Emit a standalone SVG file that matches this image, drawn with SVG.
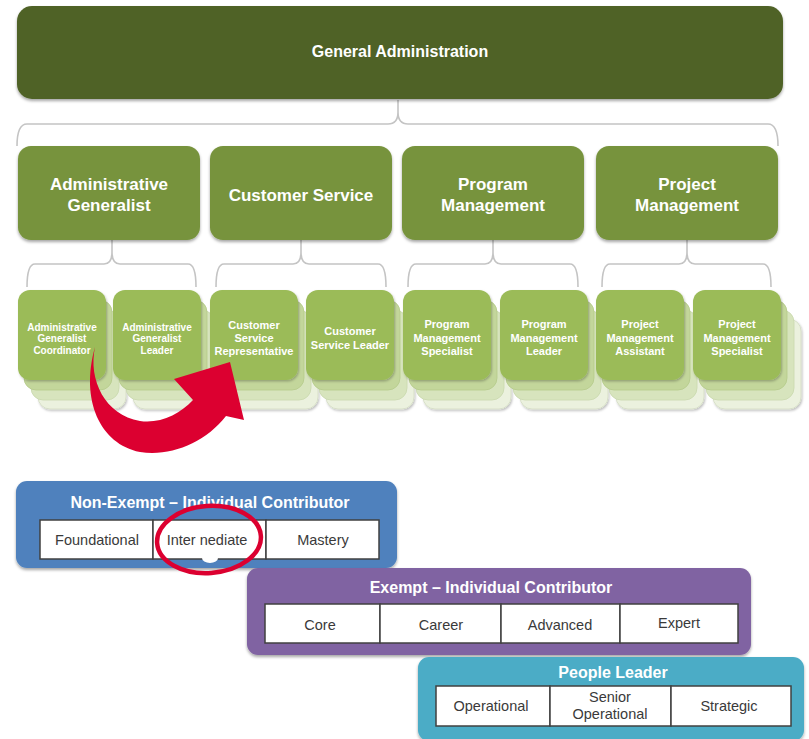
<svg xmlns="http://www.w3.org/2000/svg" width="809" height="739" viewBox="0 0 809 739">
<defs>
<filter id="sh" x="-10%" y="-10%" width="120%" height="130%">
<feDropShadow dx="0" dy="2" stdDeviation="1.6" flood-color="#000" flood-opacity="0.35"/>
</filter>
<filter id="shl" x="-10%" y="-10%" width="130%" height="130%">
<feDropShadow dx="1" dy="1.5" stdDeviation="1.2" flood-color="#000" flood-opacity="0.25"/>
</filter>
</defs>
<style>
.t{font-family:"Liberation Sans",Arial,sans-serif;font-weight:bold;fill:#fff;text-anchor:middle}
.c{font-family:"Liberation Sans",Arial,sans-serif;fill:#3a3a3a;text-anchor:middle;font-size:14.5px}
.br{fill:none;stroke:#c4c4c4;stroke-width:1.6}
.l3{fill:#ebf1de;stroke:#d3dcc3;stroke-width:0.8}
.l2{fill:#d7e4bd;stroke:#c9d8ad;stroke-width:0.8}
.l1{fill:#c3d69b;stroke:#b5ca8a;stroke-width:0.8}
.f{fill:#9bbb59}
.cell{fill:#fff;stroke:#404040;stroke-width:1.5}
</style>

<g id="connectors">
<path class="br" d="M17,146 Q17,124 27,124 L388,124 Q398,124 398,112 L398,100 M398,112 Q398,124 408,124 L768,124 Q778,124 778,146"/>
<path class="br" d="M27,287 Q27,264 35,264 L104,264 Q112,264 112,252 L112,240 M112,252 Q112,264 120,264 L188,264 Q196,264 196,287"/>
<path class="br" d="M216,287 Q216,264 224,264 L293,264 Q301,264 301,252 L301,240 M301,252 Q301,264 309,264 L378,264 Q386,264 386,287"/>
<path class="br" d="M408,287 Q408,264 416,264 L485,264 Q493,264 493,252 L493,240 M493,252 Q493,264 501,264 L570,264 Q578,264 578,287"/>
<path class="br" d="M602,287 Q602,264 610,264 L679,264 Q687,264 687,252 L687,240 M687,252 Q687,264 695,264 L763,264 Q771,264 771,287"/>
</g>

<g id="general-administration">
<rect x="17" y="6" width="766" height="93" rx="15" fill="#4f6228" filter="url(#sh)"/>
<text class="t" x="400" y="57" font-size="16">General Administration</text>
</g>

<g id="administrative-generalist">
<rect x="18" y="146" width="182" height="94" rx="13" fill="#77933c" filter="url(#sh)"/>
<text class="t" x="109" y="190" font-size="17">Administrative</text>
<text class="t" x="109" y="211" font-size="17">Generalist</text>
</g>
<g id="customer-service">
<rect x="210" y="146" width="182" height="94" rx="13" fill="#77933c" filter="url(#sh)"/>
<text class="t" x="301" y="201" font-size="17">Customer Service</text>
</g>
<g id="program-management">
<rect x="402" y="146" width="182" height="94" rx="13" fill="#77933c" filter="url(#sh)"/>
<text class="t" x="493" y="190" font-size="17">Program</text>
<text class="t" x="493" y="211" font-size="17">Management</text>
</g>
<g id="project-management">
<rect x="596" y="146" width="182" height="94" rx="13" fill="#77933c" filter="url(#sh)"/>
<text class="t" x="687" y="190" font-size="17">Project</text>
<text class="t" x="687" y="211" font-size="17">Management</text>
</g>

<g id="admin-gen-coordinator">
<rect class="l3" x="38" y="319" width="88" height="90" rx="12" filter="url(#shl)"/>
<rect class="l2" x="31" y="310" width="88" height="90" rx="12"/>
<rect class="l1" x="24" y="300" width="88" height="90" rx="12"/>
<rect class="f" x="18" y="290" width="88" height="90" rx="12" filter="url(#shl)"/>
<text class="t" x="62" y="330.5" font-size="10">Administrative</text>
<text class="t" x="62" y="342" font-size="10">Generalist</text>
<text class="t" x="62" y="353.5" font-size="10">Coordinator</text>
</g>
<g id="admin-gen-leader">
<rect class="l3" x="133" y="319" width="88" height="90" rx="12" filter="url(#shl)"/>
<rect class="l2" x="126" y="310" width="88" height="90" rx="12"/>
<rect class="l1" x="119" y="300" width="88" height="90" rx="12"/>
<rect class="f" x="113" y="290" width="88" height="90" rx="12" filter="url(#shl)"/>
<text class="t" x="157" y="330.5" font-size="10">Administrative</text>
<text class="t" x="157" y="342" font-size="10">Generalist</text>
<text class="t" x="157" y="353.5" font-size="10">Leader</text>
</g>
<g id="customer-service-rep">
<rect class="l3" x="230" y="319" width="88" height="90" rx="12" filter="url(#shl)"/>
<rect class="l2" x="223" y="310" width="88" height="90" rx="12"/>
<rect class="l1" x="216" y="300" width="88" height="90" rx="12"/>
<rect class="f" x="210" y="290" width="88" height="90" rx="12" filter="url(#shl)"/>
<text class="t" x="254" y="329" font-size="11">Customer</text>
<text class="t" x="254" y="342" font-size="11">Service</text>
<text class="t" x="254" y="355" font-size="11">Representative</text>
</g>
<g id="customer-service-leader">
<rect class="l3" x="326" y="319" width="88" height="90" rx="12" filter="url(#shl)"/>
<rect class="l2" x="319" y="310" width="88" height="90" rx="12"/>
<rect class="l1" x="312" y="300" width="88" height="90" rx="12"/>
<rect class="f" x="306" y="290" width="88" height="90" rx="12" filter="url(#shl)"/>
<text class="t" x="350" y="335" font-size="11">Customer</text>
<text class="t" x="350" y="349" font-size="11">Service Leader</text>
</g>
<g id="program-mgmt-specialist">
<rect class="l3" x="423" y="319" width="88" height="90" rx="12" filter="url(#shl)"/>
<rect class="l2" x="416" y="310" width="88" height="90" rx="12"/>
<rect class="l1" x="409" y="300" width="88" height="90" rx="12"/>
<rect class="f" x="403" y="290" width="88" height="90" rx="12" filter="url(#shl)"/>
<text class="t" x="447" y="328" font-size="11">Program</text>
<text class="t" x="447" y="342" font-size="11">Management</text>
<text class="t" x="447" y="355" font-size="11">Specialist</text>
</g>
<g id="program-mgmt-leader">
<rect class="l3" x="520" y="319" width="88" height="90" rx="12" filter="url(#shl)"/>
<rect class="l2" x="513" y="310" width="88" height="90" rx="12"/>
<rect class="l1" x="506" y="300" width="88" height="90" rx="12"/>
<rect class="f" x="500" y="290" width="88" height="90" rx="12" filter="url(#shl)"/>
<text class="t" x="544" y="328" font-size="11">Program</text>
<text class="t" x="544" y="342" font-size="11">Management</text>
<text class="t" x="544" y="355" font-size="11">Leader</text>
</g>
<g id="project-mgmt-assistant">
<rect class="l3" x="616" y="319" width="88" height="90" rx="12" filter="url(#shl)"/>
<rect class="l2" x="609" y="310" width="88" height="90" rx="12"/>
<rect class="l1" x="602" y="300" width="88" height="90" rx="12"/>
<rect class="f" x="596" y="290" width="88" height="90" rx="12" filter="url(#shl)"/>
<text class="t" x="640" y="328" font-size="11">Project</text>
<text class="t" x="640" y="342" font-size="11">Management</text>
<text class="t" x="640" y="355" font-size="11">Assistant</text>
</g>
<g id="project-mgmt-specialist">
<rect class="l3" x="713" y="319" width="88" height="90" rx="12" filter="url(#shl)"/>
<rect class="l2" x="706" y="310" width="88" height="90" rx="12"/>
<rect class="l1" x="699" y="300" width="88" height="90" rx="12"/>
<rect class="f" x="693" y="290" width="88" height="90" rx="12" filter="url(#shl)"/>
<text class="t" x="737" y="328" font-size="11">Project</text>
<text class="t" x="737" y="342" font-size="11">Management</text>
<text class="t" x="737" y="355" font-size="11">Specialist</text>
</g>

<g id="red-arrow">
<path fill="#dc0030" d="M95,347 C88,380 105,415 140,421 C160,424 180,414 193,400 L174,379 L230,362 L244,420 L226,416 C205,443 170,457 140,452 C100,444 80,400 95,347 Z"/>
</g>

<g id="non-exempt">
<rect x="16" y="481" width="381" height="87" rx="11" fill="#4f81bd" filter="url(#sh)"/>
<text class="t" x="210" y="508" font-size="16">Non-Exempt – Individual Contributor</text>
<rect class="cell" x="40" y="520" width="113" height="39"/>
<rect class="cell" x="153" y="520" width="113" height="39"/>
<rect class="cell" x="266" y="520" width="113" height="39"/>
<text class="c" x="97" y="544.5">Foundational</text>
<text class="c" x="207" y="544.5">Inter nediate</text>
<text class="c" x="323" y="544.5">Mastery</text>
</g>

<g id="highlight-ellipse">
<ellipse cx="210" cy="558" rx="8" ry="5" fill="#fff"/>
<ellipse cx="209" cy="539.5" rx="52" ry="33.5" fill="none" stroke="#dc0030" stroke-width="4.5" transform="rotate(-4 209 539.5)"/>
</g>

<g id="exempt">
<rect x="247" y="568" width="504" height="87" rx="11" fill="#8064a2" filter="url(#sh)"/>
<text class="t" x="491" y="593" font-size="16">Exempt – Individual Contributor</text>
<rect class="cell" x="265" y="604" width="115" height="39"/>
<rect class="cell" x="380" y="604" width="121" height="39"/>
<rect class="cell" x="501" y="604" width="119" height="39"/>
<rect class="cell" x="620" y="604" width="118" height="39"/>
<text class="c" x="320" y="629.5">Core</text>
<text class="c" x="441" y="629.5">Career</text>
<text class="c" x="560" y="629.5">Advanced</text>
<text class="c" x="679" y="628">Expert</text>
</g>

<g id="people-leader">
<rect x="418" y="657" width="386" height="84" rx="11" fill="#4bacc6" filter="url(#sh)"/>
<text class="t" x="613" y="678" font-size="16">People Leader</text>
<rect class="cell" x="436" y="686" width="114" height="40"/>
<rect class="cell" x="550" y="686" width="121" height="40"/>
<rect class="cell" x="671" y="686" width="120" height="40"/>
<text class="c" x="491" y="711">Operational</text>
<text class="c" x="610" y="702">Senior</text>
<text class="c" x="610" y="719">Operational</text>
<text class="c" x="729" y="711">Strategic</text>
</g>
</svg>
